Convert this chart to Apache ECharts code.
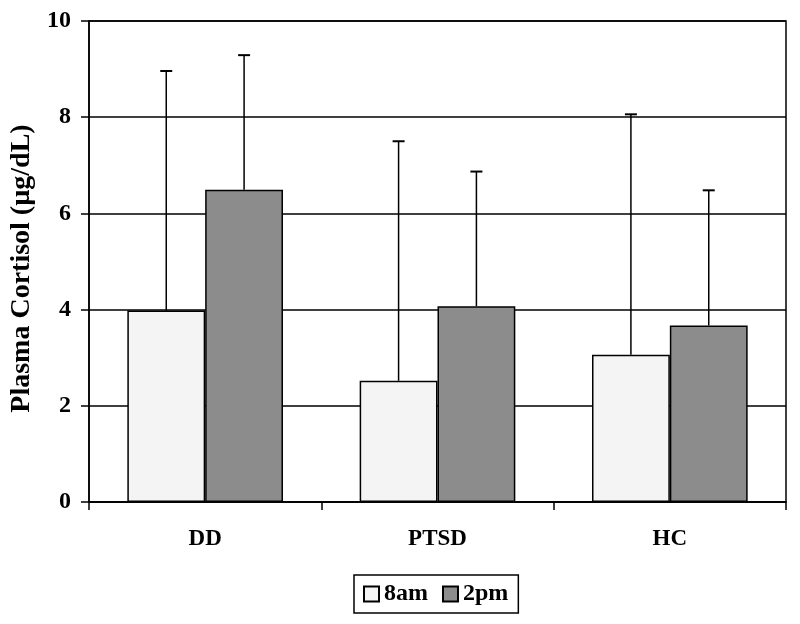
<!DOCTYPE html>
<html><head><meta charset="utf-8">
<script src="https://cdn.jsdelivr.net/npm/echarts@6/dist/echarts.min.js"></script>
<style>html,body{margin:0;padding:0;background:#fff}#c{width:800px;height:624px}</style>
</head><body><div id="c"></div>
<script>
const categories = ['DD', 'PTSD', 'HC'];
const seriesNames = ['8am', '2pm'];
const values8am = [3.98, 2.52, 3.06];
const values2pm = [6.49, 4.07, 3.67];
const errTop8am = [8.96, 7.50, 8.06];
const errTop2pm = [9.29, 6.87, 6.48];
const yTicks = [0, 2, 4, 6, 8, 10];

const FONT = '"Liberation Serif", "Times New Roman", serif';
const BAR_FRAC = 0.335;

function errSeries(tops, vals, sIdx) {
  return {
    type: 'custom',
    name: 'err' + sIdx,
    z: 5,
    silent: true,
    data: tops.map((t, i) => [i, vals[i], t]),
    renderItem: function (params, api) {
      const i = api.value(0);
      const base = api.coord([i, api.value(1)]);
      const top = api.coord([i, api.value(2)]);
      const bw = api.size([1, 0])[0] * BAR_FRAC;
      const x = base[0] + (sIdx === 0 ? -bw / 2 : bw / 2);
      const cap = 6;
      return {
        type: 'group',
        children: [
          { type: 'line', shape: { x1: x, y1: base[1], x2: x, y2: top[1] }, style: { stroke: '#000', lineWidth: 1.5 } },
          { type: 'line', shape: { x1: x - cap, y1: top[1], x2: x + cap, y2: top[1] }, style: { stroke: '#000', lineWidth: 2 } }
        ]
      };
    }
  };
}

const chart = echarts.init(document.getElementById('c'));
chart.setOption({
  animation: false,
  backgroundColor: '#fff',
  grid: { left: 88, right: 14, top: 21, bottom: 122, show: true, borderColor: '#000', borderWidth: 1.5, backgroundColor: 'transparent' },
  legend: {
    data: seriesNames,
    left: 354, top: 575,
    icon: 'rect',
    itemWidth: 15, itemHeight: 15, itemGap: 14,
    borderColor: '#000', borderWidth: 1.5, borderRadius: 0,
    padding: [7, 10, 7, 9],
    textStyle: { fontFamily: FONT, fontWeight: 'bold', fontSize: 24, color: '#000' }
  },
  xAxis: {
    type: 'category',
    data: categories,
    axisLine: { lineStyle: { color: '#000', width: 1.5 } },
    axisTick: { show: true, length: 8, alignWithLabel: false, lineStyle: { color: '#000', width: 1.5 } },
    axisLabel: { fontFamily: FONT, fontWeight: 'bold', fontSize: 23, color: '#000', margin: 26 }
  },
  yAxis: {
    type: 'value',
    min: 0, max: 10, interval: 2,
    name: 'Plasma Cortisol (µg/dL)',
    nameLocation: 'middle',
    nameGap: 53,
    nameTextStyle: { fontFamily: FONT, fontWeight: 'bold', fontSize: 28, color: '#000', padding: [0, 14, 0, 0] },
    axisLine: { show: true, lineStyle: { color: '#000', width: 1.5 } },
    axisTick: { show: true, length: 8, lineStyle: { color: '#000', width: 1.5 } },
    axisLabel: { fontFamily: FONT, fontWeight: 'bold', fontSize: 24, color: '#000', margin: 18,
      formatter: v => yTicks.includes(v) ? String(v) : '' },
    splitLine: { show: true, lineStyle: { color: '#000', width: 1.5 } }
  },
  series: [
    { type: 'bar', name: seriesNames[0], data: values8am, barWidth: (BAR_FRAC * 100) + '%', barGap: '0%',
      itemStyle: { color: '#f4f4f4', borderColor: '#000', borderWidth: 1.5 }, z: 3 },
    { type: 'bar', name: seriesNames[1], data: values2pm, barWidth: (BAR_FRAC * 100) + '%', barGap: '0%',
      itemStyle: { color: '#8c8c8c', borderColor: '#000', borderWidth: 1.5 }, z: 3 },
    errSeries(errTop8am, values8am, 0),
    errSeries(errTop2pm, values2pm, 1)
  ]
});
</script></body></html>
